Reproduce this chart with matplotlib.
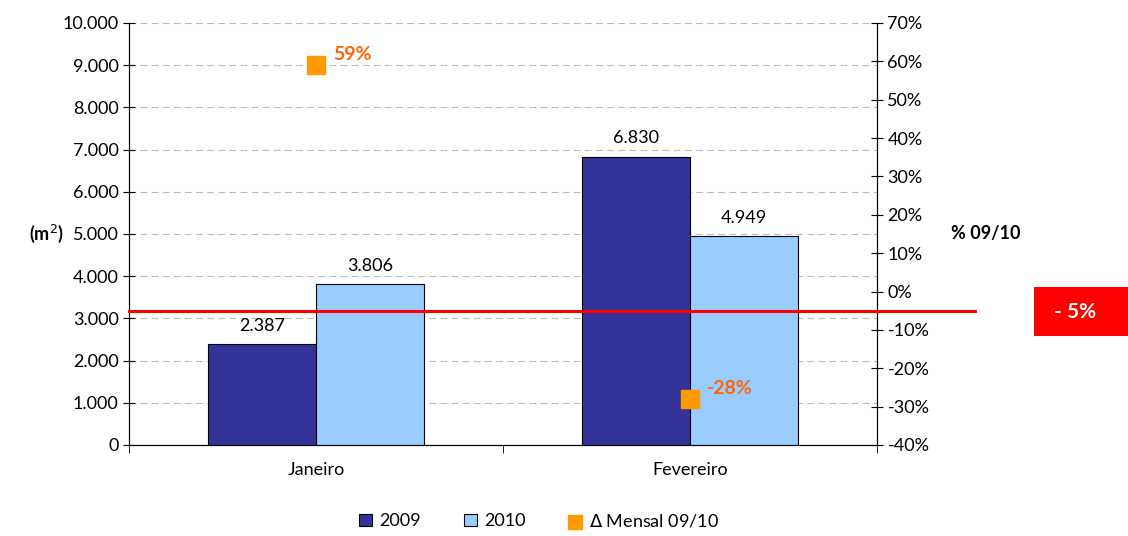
import matplotlib.pyplot as plt
from matplotlib.patches import Rectangle
import numpy as np

plt.rcParams['font.family'] = ['Lato', 'DejaVu Sans']

meses = ['Janeiro', 'Fevereiro']
area_2009 = [2387, 6830]
area_2010 = [3806, 4949]
var_mensal = [59, -28]
var_total = -5

cor_2009 = '#333399'
cor_2010 = '#99ccff'
cor_var = '#ff9900'

fig = plt.figure(figsize=(11.28, 5.36), dpi=100)
ax = fig.add_axes([0.1144, 0.1698, 0.6631, 0.7873])
ax2 = ax.twinx()

x = np.arange(len(meses))
w = 0.29
b1 = ax.bar(x - w / 2, area_2009, w, color=cor_2009, edgecolor='black', linewidth=0.8, label='2009', zorder=3)
b2 = ax.bar(x + w / 2, area_2010, w, color=cor_2010, edgecolor='black', linewidth=0.8, label='2010', zorder=3)

for bars in (b1, b2):
    for b in bars:
        v = b.get_height()
        ax.text(b.get_x() + b.get_width() / 2, v + 250, '{:,}'.format(v).replace(',', '.'),
                ha='center', va='bottom', fontsize=13)

ax.set_xlim(-0.5, 1.5)
ax.set_ylim(0, 10000)
ax.set_yticks(np.arange(0, 10001, 1000))
ax.set_yticklabels(['{:,}'.format(v).replace(',', '.') for v in range(0, 10001, 1000)], fontsize=13)
ax.set_xticks(x)
ax.set_xticklabels(meses, fontsize=13)
ax.set_xticks([-0.5, 0.5, 1.5], minor=True)
ax.tick_params(axis='x', which='major', length=0, pad=12)
ax.tick_params(axis='x', which='minor', length=6, direction='out')
ax.tick_params(axis='y', direction='inout', length=8)
ax.yaxis.grid(True, linestyle=(0, (6, 4)), color='#bbbbbb', linewidth=0.8)
ax.set_axisbelow(True)
ax.spines['top'].set_visible(False)
ax.set_ylabel('(m$^2$)', fontsize=13, fontweight='bold', rotation=0, va='center')
ax.yaxis.set_label_coords(-0.11, 0.5)

ax2.set_ylim(-40, 70)
ax2.set_yticks(np.arange(-40, 71, 10))
ax2.set_yticklabels(['{}%'.format(v) for v in range(-40, 71, 10)], fontsize=13)
ax2.tick_params(axis='y', direction='inout', length=8)
ax2.spines['top'].set_visible(False)
ax2.set_ylabel('% 09/10', fontsize=13, fontweight='bold', rotation=0, va='center')
ax2.yaxis.set_label_coords(1.145, 0.5)

m = ax2.scatter(x, var_mensal, marker='s', s=170, color=cor_var, zorder=5, label='$\\Delta$ Mensal 09/10')
for xi, v in zip(x, var_mensal):
    ax2.text(xi + 0.045, v + 2.8, '{}%'.format(v), color='#ff6600', fontsize=14,
             fontweight='bold', ha='left', va='center')

# linha da variação total
ax2.plot([-0.5, 1.763], [var_total, var_total], color='red', linewidth=2.2, clip_on=False, zorder=6)
fig.patches.append(Rectangle((0.9167, 0.373), 0.0833, 0.0916, transform=fig.transFigure,
                             facecolor='red', edgecolor='none'))
fig.text(0.953, 0.418, '- 5%', color='white', fontsize=15, fontweight='bold', ha='center', va='center')

handles = [b1, b2, m]
leg = fig.legend(handles, [h.get_label() for h in handles], loc='lower center', ncol=3, frameon=False,
                 fontsize=13, bbox_to_anchor=(0.478, -0.018), handlelength=0.7, handleheight=0.7,
                 columnspacing=2.4, handletextpad=0.4)
leg.legend_handles[2].set_sizes([110])

fig.savefig('out.png', dpi=100)
